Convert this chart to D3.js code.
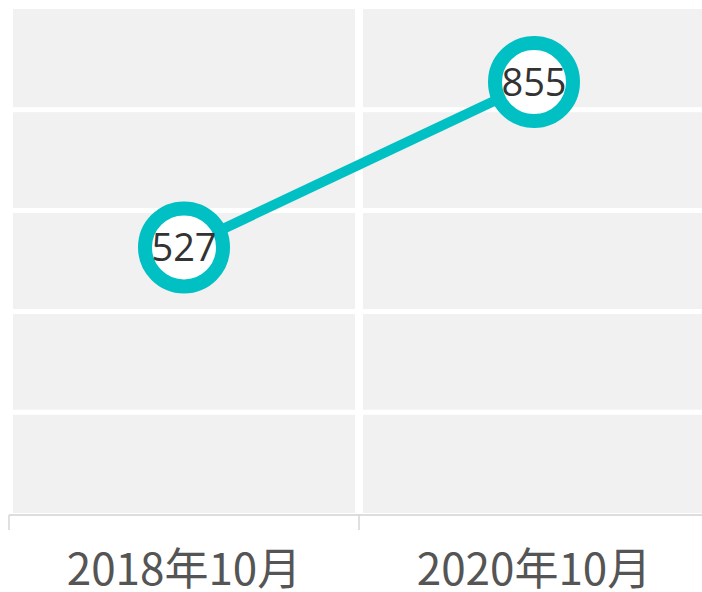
<!DOCTYPE html>
<html>
<head>
<meta charset="utf-8">
<script src="https://cdn.jsdelivr.net/npm/d3@7"></script>
<style>
  html, body { margin: 0; padding: 0; background: #fff; }
  svg { display: block; }
</style>
</head>
<body>
<svg id="chart" width="702" height="592"></svg>
<script>
const categories = ["2018年10月", "2020年10月"];
const values = [527, 855];
const yTicks = [0, 200, 400, 600, 800, 1000];

const svg = d3.select("#chart");
const W = 702, H = 592;

const x = d3.scaleBand().domain(categories).range([9, 709]);
const y = d3.scaleLinear().domain([0, 1000]).range([513, 9]);

// plot background
svg.append("rect")
  .attr("x", 13).attr("y", y(1000))
  .attr("width", W - 13).attr("height", y(0) - y(1000))
  .attr("fill", "#f1f1f1");

// horizontal white gridlines
svg.append("g").selectAll("line")
  .data(yTicks.filter(d => d > 0 && d < 1000))
  .join("line")
  .attr("x1", 13).attr("x2", W)
  .attr("y1", d => y(d)).attr("y2", d => y(d))
  .attr("stroke", "#fff").attr("stroke-width", 5);

// vertical white separator between bands
svg.append("g").selectAll("line")
  .data(categories.slice(1))
  .join("line")
  .attr("x1", d => x(d)).attr("x2", d => x(d))
  .attr("y1", y(1000)).attr("y2", y(0))
  .attr("stroke", "#fff").attr("stroke-width", 8);

// x axis
const gx = svg.append("g").attr("transform", `translate(0,${515})`);
gx.append("line")
  .attr("x1", 9).attr("x2", W)
  .attr("y1", 0).attr("y2", 0)
  .attr("stroke", "#dddddd").attr("stroke-width", 2);
gx.selectAll("line.tk")
  .data(categories.map(c => x(c)))
  .join("line").attr("class", "tk")
  .attr("x1", d => d).attr("x2", d => d)
  .attr("y1", 0).attr("y2", 15)
  .attr("stroke", "#d6d6d6").attr("stroke-width", 1.5);
gx.selectAll("text.lbl")
  .data(categories)
  .join("text").attr("class", "lbl")
  .attr("x", d => x(d) + x.bandwidth() / 2)
  .attr("y", 70)
  .attr("text-anchor", "middle")
  .attr("font-family", "'Noto Sans CJK SC', 'Noto Sans', sans-serif")
  .attr("font-size", 44)
  .attr("fill", "#555555")
  .text(d => d);

// line
const cx = d => x(d) + x.bandwidth() / 2;
const pts = categories.map((c, i) => [cx(c), y(values[i])]);
svg.append("path")
  .attr("d", d3.line()(pts))
  .attr("fill", "none")
  .attr("stroke", "#00c0c3")
  .attr("stroke-width", 10);

// markers
const g = svg.append("g").selectAll("g")
  .data(categories.map((c, i) => ({c, v: values[i]})))
  .join("g")
  .attr("transform", d => `translate(${cx(d.c)},${y(d.v)})`);
g.append("circle")
  .attr("r", 39)
  .attr("fill", "#fff")
  .attr("stroke", "#00c0c3")
  .attr("stroke-width", 14);
g.append("text")
  .attr("text-anchor", "middle")
  .attr("dy", "0.36em")
  .attr("font-family", "'Open Sans', 'Noto Sans', sans-serif")
  .attr("font-size", 38)
  .attr("fill", "#333333")
  .text(d => d.v);
</script>
</body>
</html>
